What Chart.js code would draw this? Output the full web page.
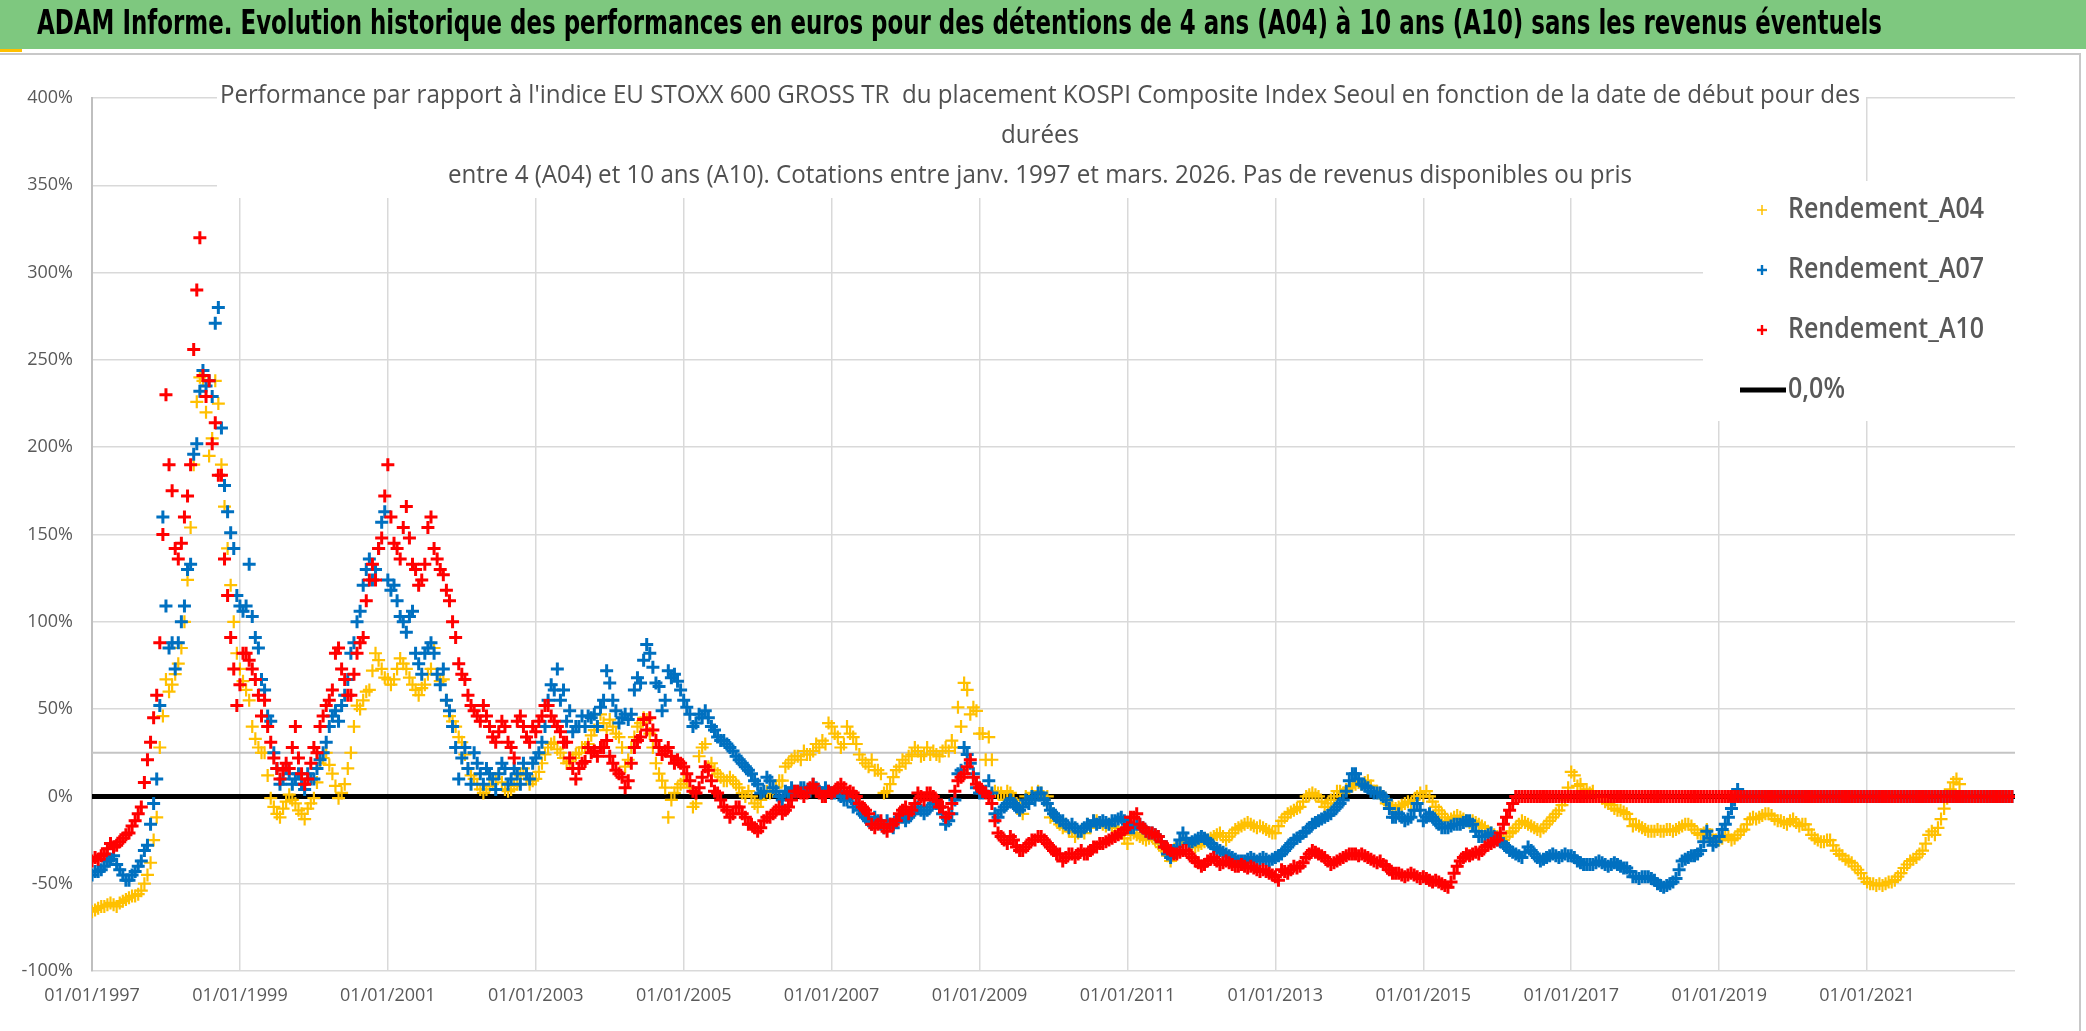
<!DOCTYPE html>
<html>
<head>
<meta charset="utf-8">
<script src="https://cdn.jsdelivr.net/npm/chart.js@4.4.1/dist/chart.umd.min.js"></script>
<style>
  html, body { margin: 0; padding: 0; background: #fff; }
  #c { display: block; }
</style>
</head>
<body>
<canvas id="c" width="2086" height="1031"></canvas>
<script>
// values (%) read at the start of each month, one row per year from 01/1997
const a04 = [
  -66,-64,-63,-61,-63,-60,-58,-57,-54,-45,-25,28,
  67,64,76,100,154,226,238,195,238,190,142,100,
  73,61,40,28,25,-1,-10,-7,1,-4,-10,-7,
  -1,19,25,13,-1,7,25,52,55,61,82,73,
  67,67,79,73,64,58,64,73,70,67,46,40,
  31,16,10,4,4,7,13,4,4,7,16,7,
  10,19,28,31,25,19,22,25,28,35,40,42,
  44,36,28,21,34,42,44,28,13,5,-2,5,
  9,5,-4,28,17,15,11,9,9,5,0,0,
  -6,2,2,5,9,19,23,21,24,26,28,30,
  40,34,30,36,30,21,17,15,13,3,11,17,
  19,24,26,24,24,24,26,26,28,40,61,51,
  36,21,21,2,-2,2,-4,-10,-2,0,2,0,
  -10,-16,-16,-20,-21,-21,-18,-14,-16,-16,-18,-21,
  -27,-21,-23,-25,-23,-27,-31,-37,-31,-25,-27,-29,
  -27,-25,-23,-21,-25,-21,-18,-16,-16,-18,-18,-20,
  -21,-14,-10,-8,-6,0,2,0,-6,-2,3,2,
  5,7,7,9,3,2,-4,-6,-6,-4,-4,0,
  0,0,-6,-10,-14,-12,-12,-14,-14,-16,-18,-21,
  -23,-25,-21,-18,-14,-16,-18,-20,-16,-12,-8,-2,
  14,6,3,2,0,-1,-4,-7,-8,-10,-17,-17,
  -19,-20,-19,-20,-19,-19,-17,-16,-19,-22,-19,-25,
  -25,-22,-25,-22,-19,-13,-13,-11,-10,-13,-14,-16,
  -13,-17,-16,-22,-25,-26,-25,-31,-34,-37,-40,-44,
  -49,-50,-50,-50,-49,-46,-41,-37,-35,-31,-22,-22,
  -13,-1,8,7,0,0,0,0,0,0,0,0
];
const a07 = [
  -45,-43,-40,-36,-39,-45,-48,-43,-37,-28,-4,52,
  109,88,88,109,133,202,244,238,271,211,163,142,
  109,109,103,85,61,43,16,10,13,10,7,13,
  10,21,31,46,43,58,82,100,121,136,130,157,
  124,121,103,94,106,76,82,88,70,73,49,28,
  22,16,25,13,16,10,13,16,10,13,19,10,
  22,31,55,61,55,43,37,40,40,45,40,55,
  65,49,45,44,61,65,87,74,63,55,68,66,
  55,47,42,45,45,38,32,30,26,21,17,13,
  7,3,9,3,-2,2,3,5,3,7,3,5,
  2,3,-2,0,-4,-10,-14,-12,-16,-14,-18,-12,
  -14,-10,-6,-10,-6,-4,-10,-14,-2,15,24,13,
  2,3,2,-12,-6,-2,-6,-6,-4,-2,2,-4,
  -10,-14,-16,-16,-20,-18,-17,-16,-14,-16,-14,-12,
  -16,-18,-16,-20,-21,-23,-29,-35,-29,-21,-27,-25,
  -23,-25,-29,-31,-33,-35,-37,-37,-35,-37,-35,-37,
  -35,-33,-29,-25,-23,-20,-16,-14,-12,-10,-6,-2,
  9,13,7,5,2,2,-2,-12,-10,-14,-12,-4,
  -14,-10,-14,-18,-18,-16,-16,-14,-16,-23,-23,-21,
  -25,-27,-31,-33,-35,-29,-33,-37,-35,-33,-35,-33,
  -34,-37,-39,-39,-38,-38,-40,-38,-40,-41,-46,-47,
  -46,-47,-50,-52,-50,-47,-37,-35,-34,-31,-20,-28,
  -23,-16,-7,4,0,0,0,0,0,0,0,0,
  0,0,0,0,0,0,0,0,0,0,0,0,
  0,0,0,0,0,0,0,0,0,0,0,0,
  0,0,0,0,0,0,0,0,0,0,0,0
];
const a10 = [
  -37,-36,-33,-27,-28,-24,-21,-14,-6,21,45,88,
  230,175,136,160,190,290,241,238,214,184,115,73,
  64,82,73,58,55,31,16,15,16,40,13,10,
  28,40,52,61,85,67,58,82,91,124,124,148,
  190,145,136,166,133,121,133,160,136,127,112,91,
  70,58,49,43,46,34,37,40,28,43,40,31,
  37,46,52,43,37,31,16,16,20,25,23,28,
  23,15,11,9,28,34,38,38,28,26,23,21,
  17,9,2,11,15,3,-2,-8,-10,-6,-12,-16,
  -20,-14,-12,-8,-10,-6,3,2,2,7,2,0,
  2,5,5,3,0,-6,-10,-18,-14,-20,-16,-10,
  -6,-8,2,-2,2,-2,-6,-10,3,11,17,11,
  5,2,-4,-21,-25,-23,-29,-31,-27,-25,-23,-27,
  -31,-33,-35,-33,-33,-33,-31,-29,-27,-25,-23,-21,
  -18,-12,-16,-20,-21,-23,-29,-31,-33,-31,-33,-37,
  -40,-37,-35,-39,-37,-39,-40,-40,-40,-42,-42,-44,
  -46,-42,-44,-40,-40,-35,-31,-33,-35,-39,-37,-35,
  -33,-33,-33,-35,-37,-37,-40,-44,-44,-46,-44,-46,
  -46,-48,-48,-50,-52,-44,-37,-33,-33,-33,-29,-27,
  -25,-16,-8,0,0,0,0,0,0,0,0,0,
  0,0,0,0,0,0,0,0,0,0,0,0,
  0,0,0,0,0,0,0,0,0,0,0,0,
  0,0,0,0,0,0,0,0,0,0,0,0,
  0,0,0,0,0,0,0,0,0,0,0,0,
  0,0,0,0,0,0,0,0,0,0,0,0,
  0,0,0,0,0,0,0,0,0,0,0,0
];
// values (%) read in the middle of each month, same layout
const a04Mid = [
  -65,-63,-62,-62,-61,-59,-57,-56,-50,-38,-12,46,
  60,70,85,124,190,240,220,205,225,166,121,82,
  66,55,33,25,12,-6,-12,-3,-2,-8,-13,-4,
  8,22,18,6,2,16,40,50,60,72,78,68,
  64,73,76,68,61,62,70,85,66,55,43,34,
  24,12,7,2,6,10,8,3,6,12,10,9,
  14,24,30,27,22,20,24,28,30,38,47,38,
  40,34,17,28,40,45,36,19,9,-12,2,7,
  9,-6,23,30,19,13,9,11,7,2,3,-4,
  -2,3,3,9,17,21,23,26,24,30,32,42,
  36,28,40,34,24,19,21,15,2,7,15,21,
  23,28,23,28,26,23,28,32,51,65,47,49,
  36,34,3,2,3,-2,-6,0,2,3,-2,-12,
  -14,-18,-20,-23,-20,-16,-14,-15,-17,-17,-20,-24,
  -22,-22,-24,-24,-25,-29,-34,-34,-27,-26,-28,-28,
  -26,-24,-22,-23,-23,-19,-17,-15,-17,-17,-19,-21,
  -17,-12,-9,-7,-3,1,1,-3,-4,0,3,4,
  6,8,8,6,3,-1,-5,-7,-5,-3,-2,2,
  3,-3,-8,-12,-13,-11,-13,-15,-15,-17,-20,-22,
  -24,-23,-20,-16,-15,-17,-19,-18,-14,-10,-5,5,
  12,7,4,3,0,-3,-5,-8,-9,-13,-16,-18,
  -20,-20,-20,-19,-20,-18,-16,-17,-21,-21,-22,-25,
  -24,-23,-24,-20,-16,-12,-12,-10,-11,-14,-15,-14,
  -15,-16,-19,-24,-26,-25,-28,-33,-36,-38,-42,-47,
  -50,-51,-51,-49,-48,-44,-39,-36,-33,-27,-20,-18,
  -7,4,10,0,0,0,0,0,0,0,0,0
];
const a07Mid = [
  -43,-42,-37,-34,-42,-48,-45,-40,-31,-16,10,160,
  85,73,100,130,196,232,235,229,280,178,151,115,
  106,133,91,67,46,25,7,16,7,13,4,10,
  16,25,40,49,52,67,88,106,130,124,142,163,
  118,112,100,103,82,70,85,82,64,55,40,10,
  28,7,19,7,13,4,19,7,16,7,13,19,
  25,40,64,73,61,49,40,46,46,47,51,72,
  55,42,47,47,68,78,82,65,49,72,70,61,
  51,40,47,49,40,34,32,28,23,19,15,9,
  2,11,5,0,3,5,3,5,3,5,2,3,
  2,0,-2,-6,-8,-12,-16,-14,-18,-16,-14,-12,
  -12,-8,-8,-8,-4,-6,-16,-10,13,28,19,5,
  2,9,-10,-8,-4,-4,-8,-2,0,2,-2,-8,
  -12,-14,-18,-18,-20,-16,-14,-15,-15,-14,-13,-14,
  -18,-16,-18,-21,-22,-26,-33,-31,-25,-24,-26,-24,
  -24,-27,-30,-32,-34,-36,-37,-36,-36,-36,-36,-36,
  -34,-31,-27,-24,-21,-18,-15,-13,-11,-8,-4,3,
  13,10,6,3,2,0,-7,-12,-12,-13,-8,-8,
  -12,-12,-16,-18,-17,-16,-15,-14,-20,-23,-22,-23,
  -26,-29,-32,-34,-32,-31,-35,-36,-34,-34,-34,-34,
  -35,-38,-39,-39,-37,-39,-39,-39,-41,-43,-46,-46,
  -46,-48,-51,-51,-49,-42,-36,-34,-33,-26,-24,-26,
  -19,-12,-2,0,0,0,0,0,0,0,0,0,
  0,0,0,0,0,0,0,0,0,0,0,0,
  0,0,0,0,0,0,0,0,0,0,0,0,
  0,0,0,0,0,0,0,0,0,0,0,0
];
const a10Mid = [
  -35,-34,-30,-29,-26,-22,-17,-10,8,31,58,150,
  190,142,145,172,256,320,229,202,184,136,91,52,
  82,78,67,46,40,22,10,19,28,22,7,19,
  25,46,55,82,73,58,70,88,112,133,142,172,
  160,142,154,148,130,124,154,142,130,118,100,76,
  67,52,46,52,40,31,43,31,22,46,34,40,
  43,52,46,40,31,22,10,19,28,26,28,32,
  19,13,5,19,32,44,45,32,24,28,19,19,
  13,3,5,17,9,2,-6,-12,-6,-10,-16,-18,
  -18,-12,-10,-6,-8,-2,3,0,5,3,0,3,
  3,7,2,2,-4,-8,-16,-16,-18,-16,-14,-8,
  -10,-4,0,2,0,-6,-12,-4,9,13,21,7,
  3,0,-14,-23,-27,-25,-31,-29,-25,-23,-25,-29,
  -33,-37,-33,-35,-31,-33,-29,-27,-26,-24,-22,-19,
  -12,-10,-18,-21,-22,-26,-30,-33,-32,-31,-35,-38,
  -39,-36,-37,-38,-38,-40,-39,-41,-41,-43,-43,-45,
  -48,-43,-42,-41,-38,-33,-32,-34,-37,-38,-36,-34,
  -33,-34,-34,-36,-38,-39,-42,-44,-45,-45,-45,-47,
  -47,-49,-49,-51,-49,-40,-35,-34,-32,-31,-28,-26,
  -21,-12,-4,0,0,0,0,0,0,0,0,0,
  0,0,0,0,0,0,0,0,0,0,0,0,
  0,0,0,0,0,0,0,0,0,0,0,0,
  0,0,0,0,0,0,0,0,0,0,0,0,
  0,0,0,0,0,0,0,0,0,0,0,0,
  0,0,0,0,0,0,0,0,0,0,0,0,
  0,0,0,0,0,0,0,0,0,0,0,0
];
const startYear = 1997;
const xRange = [1997, 2023];
const zeroLevel = 0;
const axisCross = 25;

const xTickYears = [1997,1999,2001,2003,2005,2007,2009,2011,2013,2015,2017,2019,2021,2023];
const xTickLabels = ['01/01/1997','01/01/1999','01/01/2001','01/01/2003','01/01/2005','01/01/2007',
  '01/01/2009','01/01/2011','01/01/2013','01/01/2015','01/01/2017','01/01/2019','01/01/2021',''];
const yTicks = [-100,-50,0,50,100,150,200,250,300,350,400];
const yTickLabels = ['-100%','-50%','0%','50%','100%','150%','200%','250%','300%','350%','400%'];

const seriesNames = ['Rendement_A04','Rendement_A07','Rendement_A10','0,0%'];
const seriesColors = ['#FFC000','#0070C0','#FF0000','#000000'];

const mainTitle = "ADAM Informe. Evolution historique des performances en euros pour des détentions de 4 ans (A04) à 10 ans (A10) sans les revenus éventuels";
const subTitle = [
  "Performance par rapport à l'indice EU STOXX 600 GROSS TR  du placement KOSPI Composite Index Seoul en fonction de la date de début pour des",
  "durées",
  "entre 4 (A04) et 10 ans (A10). Cotations entre janv. 1997 et mars. 2026. Pas de revenus disponibles ou pris"
];

// start-of-month and mid-month readings merged into one series
const toPoints = (arr, mid) => {
  const pts = [];
  arr.forEach((v, i) => {
    pts.push({ x: startYear + i / 12, y: v });
    pts.push({ x: startYear + (i + 0.5) / 12, y: mid[i] });
  });
  return pts;
};
const flat = v => xRange.map(x => ({ x: x, y: v }));

const FONT = '"Open Sans", "Noto Sans", sans-serif';
const NARROW = '"Liberation Sans Narrow", "DejaVu Sans Condensed", "Open Sans", sans-serif';

function drawFitted(ctx, text, x, y, font, sx, align, color) {
  ctx.save();
  ctx.font = font;
  ctx.fillStyle = color;
  ctx.textAlign = align;
  ctx.textBaseline = 'middle';
  ctx.translate(x, y);
  ctx.scale(sx, 1);
  ctx.fillText(text, 0, 0);
  ctx.restore();
}
function fitScale(ctx, text, font, width) {
  ctx.save();
  ctx.font = font;
  const w = ctx.measureText(text).width;
  ctx.restore();
  return width / w;
}

const frame = {
  id: 'frame',
  beforeDraw(chart) {
    const ctx = chart.ctx;
    ctx.save();
    ctx.fillStyle = '#fff';
    ctx.fillRect(0, 0, chart.width, chart.height);
    ctx.fillStyle = '#7ec87f';
    ctx.fillRect(0, 0, chart.width, 49);
    ctx.fillStyle = '#FFC000';
    ctx.fillRect(0, 49, 22, 3);
    ctx.strokeStyle = '#c8c8c8';
    ctx.lineWidth = 2;
    ctx.beginPath();
    ctx.moveTo(0, 54); ctx.lineTo(2080, 54); ctx.lineTo(2080, 1031);
    ctx.stroke();
    const tf = 'bold 33px ' + NARROW;
    drawFitted(ctx, mainTitle, 37, 25, tf, fitScale(ctx, mainTitle, tf, 1845), 'left', '#000');
    ctx.restore();
  },
  beforeDatasetsDraw(chart) {
    const ctx = chart.ctx;
    ctx.save();
    ctx.fillStyle = '#fff';
    ctx.fillRect(217, 60, 1649, 138);
    ctx.fillRect(1703, 181, 314, 240);
    const sf = '25px ' + FONT;
    const ss = fitScale(ctx, subTitle[2], sf, 1184);
    subTitle.forEach((t, i) => drawFitted(ctx, t, 1040, 96 + i * 40, sf, ss, 'center', '#505050'));

    const lf = '600 28px ' + FONT;
    const ls = fitScale(ctx, seriesNames[0], lf, 196);
    seriesNames.forEach((n, i) => {
      const y = 210 + i * 60;
      drawFitted(ctx, n, 1788, y, lf, ls, 'left', '#595959');
      ctx.strokeStyle = seriesColors[i];
      if (i < 3) {
        ctx.lineWidth = i === 0 ? 1.5 : 2.4;
        ctx.beginPath();
        ctx.moveTo(1757, y); ctx.lineTo(1767, y);
        ctx.moveTo(1762, y - 5); ctx.lineTo(1762, y + 5);
        ctx.stroke();
      } else {
        ctx.lineWidth = 5;
        ctx.beginPath();
        ctx.moveTo(1740, y); ctx.lineTo(1786, y);
        ctx.stroke();
      }
    });
    ctx.restore();
  }
};

const marker = (data, i, bw, order) => ({
  label: seriesNames[i],
  data: data,
  pointStyle: 'cross',
  pointRadius: 6.5,
  pointHoverRadius: 6.5,
  pointBorderWidth: bw,
  borderColor: seriesColors[i],
  backgroundColor: seriesColors[i],
  showLine: false,
  order: order
});

new Chart(document.getElementById('c'), {
  type: 'scatter',
  data: {
    datasets: [
      marker(toPoints(a04, a04Mid), 0, 2.2, 3),
      marker(toPoints(a07, a07Mid), 1, 3, 2),
      marker(toPoints(a10, a10Mid), 2, 3, 1),
      { label: seriesNames[3], data: flat(zeroLevel), showLine: true, borderColor: '#000',
        borderWidth: 5, pointRadius: 0, order: 4 },
      { label: 'axe', data: flat(axisCross), showLine: true, borderColor: '#c4c4c4',
        borderWidth: 2, pointRadius: 0, order: 5 }
    ]
  },
  options: {
    responsive: false,
    animation: false,
    devicePixelRatio: 1,
    layout: { padding: { left: 0, right: 71, top: 98, bottom: 0 } },
    plugins: { legend: { display: false }, tooltip: { enabled: false }, title: { display: false } },
    scales: {
      x: {
        type: 'linear',
        min: xRange[0],
        max: xRange[1],
        afterBuildTicks: s => { s.ticks = xTickYears.map(v => ({ value: v })); },
        afterFit: s => { s.height = 60; },
        grid: {
          color: c => (c.tick && c.tick.value === xRange[1]) ? 'rgba(0,0,0,0)' : '#d9d9d9',
          lineWidth: 1.5,
          drawTicks: false
        },
        border: { display: false },
        ticks: {
          autoSkip: false,
          maxRotation: 0,
          padding: 14,
          color: '#595959',
          font: { family: FONT, size: 18 },
          callback: (v, i) => xTickLabels[i]
        }
      },
      y: {
        min: -100,
        max: 400,
        afterBuildTicks: s => { s.ticks = yTicks.map(v => ({ value: v })); },
        afterFit: s => { s.width = 92; },
        grid: { color: '#d9d9d9', lineWidth: 1.5, drawTicks: false },
        border: { color: '#bfbfbf', width: 2 },
        ticks: {
          padding: 19,
          color: '#595959',
          font: { family: FONT, size: 18 },
          callback: (v, i) => yTickLabels[i]
        }
      }
    }
  },
  plugins: [frame]
});
</script>
</body>
</html>
